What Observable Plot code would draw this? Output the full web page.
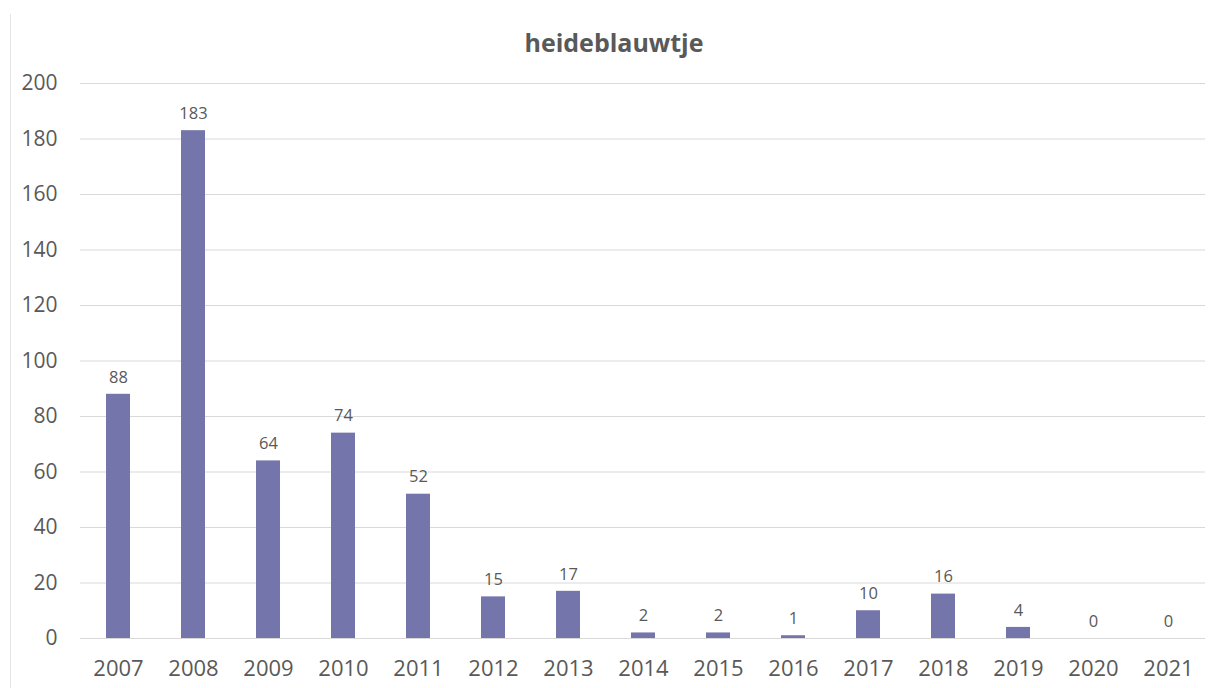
<!DOCTYPE html>
<html><head><meta charset="utf-8">
<script src="https://cdn.jsdelivr.net/npm/d3@7"></script>
<script src="https://cdn.jsdelivr.net/npm/@observablehq/plot@0.6"></script>
<style>
body{margin:0;background:#fff;}
#wrap{position:relative;width:1212px;height:688px;overflow:hidden;font-family:"Open Sans",sans-serif;}
#title{position:absolute;left:8px;width:1212px;top:25px;text-align:center;font-weight:bold;font-size:25px;line-height:34px;color:#595959;}
#border{position:absolute;left:10px;top:14px;width:1px;height:690px;background:#e3e3e3;}
</style></head>
<body><div id="wrap"><div id="border"></div><div id="title">heideblauwtje</div><div id="chart"></div></div>
<script>
const years = ["2007","2008","2009","2010","2011","2012","2013","2014","2015","2016","2017","2018","2019","2020","2021"];
const counts = [88,183,64,74,52,15,17,2,2,1,10,16,4,0,0];
const yTicks = [0,20,40,60,80,100,120,140,160,180,200];
const data = years.map((y,i)=>({year:y,count:counts[i]}));
const chart = Plot.plot({
  width:1212, height:688,
  marginTop:83, marginBottom:50, marginLeft:80, marginRight:7,
  style:{fontFamily:"Open Sans, sans-serif", color:"#595959", background:"transparent"},
  x:{domain:years, paddingInner:0.68, paddingOuter:0.34, align:0.5, label:null},
  y:{domain:[0,200], ticks:yTicks, label:null},
  marks:[
    Plot.gridY(yTicks,{stroke:"#d9d9d9", strokeOpacity:1}),
    Plot.barY(data,{x:"year", y:"count", fill:"#7475AB"}),
    Plot.text(data,{x:"year", y:"count", text:d=>String(d.count), dy:-17, fontSize:16.5, fill:"#595959"}),
    Plot.axisX({tickSize:0, tickPadding:22, fontSize:22, label:null}),
    Plot.axisY(yTicks,{tickSize:0, tickPadding:23, fontSize:21, label:null})
  ]
});
document.getElementById("chart").appendChild(chart);
</script></body></html>
